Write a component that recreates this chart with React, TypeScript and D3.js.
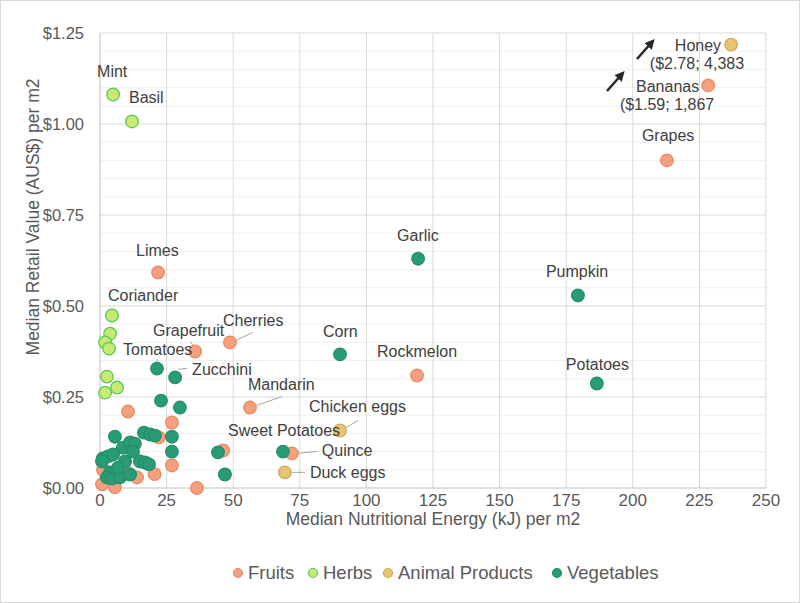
import React from "react";
import * as d3 from "d3";

// ---- data ----
type P = [number, number, string?];

const fruits: P[] = [
  [21.8, 0.592, "Limes"],
  [35.7, 0.375, "Grapefruit"],
  [48.8, 0.4, "Cherries"],
  [56.3, 0.221, "Mandarin"],
  [72.0, 0.095, "Quince"],
  [119.0, 0.309, "Rockmelon"],
  [212.8, 0.9, "Grapes"],
  [228.3, 1.106, "Bananas"],
  [10.5, 0.21],
  [27.0, 0.18],
  [22.1, 0.139],
  [46.2, 0.103],
  [27.0, 0.062],
  [20.5, 0.038],
  [13.9, 0.029],
  [36.4, 0.0],
  [0.75, 0.01],
  [5.6, 0.002],
  [1.1, 0.05],
  [9.4, 0.05],
];

const herbs: P[] = [
  [4.9, 1.081, "Mint"],
  [12.0, 1.007, "Basil"],
  [4.5, 0.474, "Coriander"],
  [3.8, 0.424],
  [1.9, 0.4],
  [3.4, 0.383],
  [2.6, 0.306],
  [6.4, 0.276],
  [1.9, 0.262],
];

const animalProducts: P[] = [
  [90.1, 0.158, "Chicken eggs"],
  [69.4, 0.043, "Duck eggs"],
  [236.9, 1.218, "Honey"],
];

const vegetables: P[] = [
  [119.4, 0.63, "Garlic"],
  [90.1, 0.367, "Corn"],
  [179.4, 0.529, "Pumpkin"],
  [186.5, 0.287, "Potatoes"],
  [68.7, 0.1, "Sweet Potatoes"],
  [21.4, 0.328, "Tomatoes"],
  [28.2, 0.304, "Zucchini"],
  [22.9, 0.24],
  [30.0, 0.221],
  [5.6, 0.141],
  [16.5, 0.152],
  [18.8, 0.147],
  [20.6, 0.144],
  [27.0, 0.141],
  [27.0, 0.1],
  [44.3, 0.098],
  [8.6, 0.111],
  [11.3, 0.125],
  [13.1, 0.122],
  [12.4, 0.1],
  [1.1, 0.081],
  [3.0, 0.087],
  [4.9, 0.092],
  [9.4, 0.073],
  [15.0, 0.073],
  [16.9, 0.07],
  [18.4, 0.065],
  [0.75, 0.073],
  [3.8, 0.043],
  [2.6, 0.029],
  [4.5, 0.026],
  [7.5, 0.029],
  [11.3, 0.037],
  [6.8, 0.056],
  [46.9, 0.037],
];

const seriesNames = ["Fruits", "Herbs", "Animal Products", "Vegetables"];
const xTicks = [0, 25, 50, 75, 100, 125, 150, 175, 200, 225, 250];
const yTicks = [0, 0.25, 0.5, 0.75, 1.0, 1.25];
const honeyNote = "($2.78; 4,383";
const bananaNote = "($1.59; 1,867";

// ---- styles ----
const styles = [
  { fill: "#F3A07F", stroke: "#EC8A63" },
  { fill: "#C8EA72", stroke: "#58C85C" },
  { fill: "#E6C477", stroke: "#D3AA52" },
  { fill: "#2A9B77", stroke: "#218F6B" },
];

// label placement: [dx, dy, anchor, leader?[x1,y1,x2,y2] relative to point]
const labelPos: Record<string, [number, number, string, number[]?]> = {
  Mint: [-16, -18, "start"],
  Basil: [-3, -18, "start"],
  Limes: [-22, -17, "start"],
  Coriander: [-4, -14, "start"],
  Grapefruit: [-42, -16, "start", [-5, -10, -2, -6]],
  Cherries: [-7, -16, "start", [23, -10, 6, -2]],
  Tomatoes: [-34, -14, "start", [0, -6, 0, -10]],
  Zucchini: [17, -2, "start", [3, -8, 12, -9]],
  Corn: [-17, -17, "start"],
  Rockmelon: [-40, -19, "start"],
  Mandarin: [-2, -18, "start", [32, -11, 6, -2]],
  "Chicken eggs": [-31, -18, "start", [18, -10, 6, -3]],
  "Sweet Potatoes": [-55, -16, "start"],
  Quince: [30, 3, "start", [25, -2, 5, 0]],
  "Duck eggs": [25, 6, "start", [20, 0, 6, 0]],
  Garlic: [-21, -18, "start"],
  Pumpkin: [-32, -18, "start"],
  Potatoes: [-31, -14, "start"],
  Grapes: [-25, -19, "start"],
  Honey: [-10, 6, "end"],
  Bananas: [-9, 7, "end"],
};

const W = 800;
const H = 603;
const FONT = "'Liberation Sans', Arial, sans-serif";
const LABEL_FS = 16;

export default function App() {
  const x = d3.scaleLinear().domain([0, 250]).range([100, 766]);
  const y = d3.scaleLinear().domain([0, 1.25]).range([488, 33]);
  const minorY = d3.range(0.05, 1.2501, 0.05).filter((v) => Math.abs(v / 0.25 - Math.round(v / 0.25)) > 1e-6);
  const all: P[][] = [fruits, herbs, animalProducts, vegetables];
  const fmt = d3.format("$.2f");

  const honey = animalProducts.find((d) => d[2] === "Honey")!;
  const banana = fruits.find((d) => d[2] === "Bananas")!;

  const legendX = [238, 313, 388, 557];

  return (
    <svg width={W} height={H} style={{ position: "absolute", left: 0, top: 0, fontFamily: FONT }}>
      <defs>
        <marker id="ah" viewBox="0 0 10 10" refX="6" refY="5" markerWidth="4" markerHeight="4" orient="auto">
          <path d="M0,0 L10,5 L0,10 z" fill="#262626" />
        </marker>
      </defs>
      <rect x={0.5} y={0.5} width={W - 1} height={H - 1} fill="#fff" stroke="#d9d9d9" />
      {/* minor grid */}
      {minorY.map((v) => (
        <line key={"my" + v} x1={x(0)} x2={x(250)} y1={y(v)} y2={y(v)} stroke="#efefef" />
      ))}
      {/* major grid */}
      {yTicks.slice(1).map((v) => (
        <line key={"gy" + v} x1={x(0)} x2={x(250)} y1={y(v)} y2={y(v)} stroke="#d9d9d9" />
      ))}
      {xTicks.slice(1).map((v) => (
        <line key={"gx" + v} x1={x(v)} x2={x(v)} y1={y(0)} y2={y(1.25)} stroke="#d9d9d9" />
      ))}
      {/* axes */}
      <line x1={x(0)} x2={x(250)} y1={y(0)} y2={y(0)} stroke="#bfbfbf" />
      <line x1={x(0)} x2={x(0)} y1={y(0)} y2={y(1.25)} stroke="#bfbfbf" />
      {/* tick labels */}
      {yTicks.map((v) => (
        <text key={"ty" + v} x={84} y={y(v) + 6} textAnchor="end" fontSize={16.5} fill="#595959">
          {fmt(v)}
        </text>
      ))}
      {xTicks.map((v) => (
        <text key={"tx" + v} x={x(v)} y={506} textAnchor="middle" fontSize={17} fill="#595959">
          {v}
        </text>
      ))}
      {/* axis titles */}
      <text x={433} y={525} textAnchor="middle" fontSize={17.5} fill="#595959">
        Median Nutritional Energy (kJ) per m2
      </text>
      <text transform="translate(39,217) rotate(-90)" textAnchor="middle" fontSize={17.5} fill="#595959">
        Median Retail Value (AUS$) per m2
      </text>
      {/* leaders */}
      {all.map((s, si) =>
        s
          .filter((d) => d[2] && labelPos[d[2]!] && labelPos[d[2]!][3])
          .map((d) => {
            const px = x(d[0]);
            const py = y(d[1]);
            const l = labelPos[d[2]!][3]!;
            return (
              <line key={"ld" + si + d[2]} x1={px + l[0]} y1={py + l[1]} x2={px + l[2]} y2={py + l[3]} stroke="#a6a6a6" strokeWidth={1} />
            );
          })
      )}
      {/* points */}
      {all.map((s, si) => (
        <g key={"s" + si}>
          {s.map((d, i) => (
            <circle
              key={i}
              cx={x(d[0])}
              cy={y(d[1])}
              r={6.3}
              fill={styles[si].fill}
              stroke={styles[si].stroke}
              strokeWidth={1.3}
            />
          ))}
        </g>
      ))}
      {/* labels */}
      {all.map((s, si) =>
        s
          .filter((d) => d[2] && labelPos[d[2]!])
          .map((d) => {
            const p = labelPos[d[2]!];
            return (
              <text key={"lb" + si + d[2]} x={x(d[0]) + p[0]} y={y(d[1]) + p[1]} textAnchor={p[2]} fontSize={LABEL_FS} fill="#404040">
                {d[2]}
              </text>
            );
          })
      )}
      <text x={x(honey[0]) + 13} y={y(honey[1]) + 24} textAnchor="end" fontSize={LABEL_FS} fill="#404040">
        {honeyNote}
      </text>
      <text x={x(banana[0]) + 6} y={y(banana[1]) + 25} textAnchor="end" fontSize={LABEL_FS} fill="#404040">
        {bananaNote}
      </text>
      {/* arrows */}
      <line x1={607} y1={91} x2={622} y2={74} stroke="#262626" strokeWidth={2.5} markerEnd="url(#ah)" />
      <line x1={637} y1={59} x2={652} y2={42} stroke="#262626" strokeWidth={2.5} markerEnd="url(#ah)" />
      {/* legend */}
      {seriesNames.map((n, i) => (
        <g key={"lg" + n}>
          <circle cx={legendX[i]} cy={573} r={4.5} fill={styles[i].fill} stroke={styles[i].stroke} strokeWidth={1.2} />
          <text x={legendX[i] + 10} y={579} fontSize={18.5} fill="#595959">
            {n}
          </text>
        </g>
      ))}
    </svg>
  );
}
